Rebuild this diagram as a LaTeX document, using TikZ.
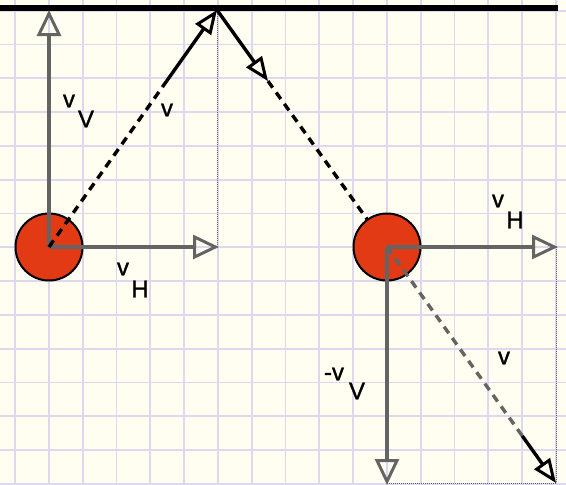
\documentclass[tikz,border=0pt]{standalone}
\usepackage{fontspec}
\setmainfont{Liberation Sans}[FakeBold=1.2]
\usetikzlibrary{arrows.meta,calc}
\definecolor{paper}{RGB}{255,254,240}
\definecolor{gridc}{RGB}{222,215,240}
\definecolor{ballc}{RGB}{226,58,20}
\definecolor{vecgray}{RGB}{100,100,100}
\tikzset{
  grayvec/.style={draw=vecgray,line width=3.2pt,-{Triangle[open,length=26pt,width=24pt,line width=3pt]}},
  blackvec/.style={draw=black,line width=3.4pt,-{Triangle[open,length=24pt,width=19pt,line width=3pt]}},
  dashline/.style={draw=black,line width=3.4pt,dash pattern=on 8pt off 6pt},
  graydash/.style={draw=vecgray,line width=3.4pt,dash pattern=on 8pt off 6pt},
  helper/.style={draw=vecgray,line width=1pt,dash pattern=on 1pt off 1pt},
  ball/.style={circle,draw=black,line width=2pt,fill=ballc,minimum size=67pt,inner sep=0pt},
  lab/.style={font=\fontsize{24}{26}\selectfont,inner sep=0pt,text=black}
}
\begin{document}
\begin{tikzpicture}[x=1pt,y=-1pt]
\useasboundingbox (0,0) rectangle (566,485);
\fill[paper] (0,0) rectangle (566,485);
% grid
\foreach \i in {0,...,16} {\draw[gridc,line width=1.8pt] ({15+33.8*\i},0) -- ({15+33.8*\i},485);}
\foreach \j in {0,...,14} {\draw[gridc,line width=1.8pt] (0,{10.6+33.8*\j}) -- (566,{10.6+33.8*\j});}
% ceiling
\coordinate (cl) at (0,8);
\coordinate (cr) at (558,8);
\draw[black,line width=6.5pt] (cl) -- (cr);
% key points
\coordinate (top1) at (217,10);
\coordinate (h1) at (219,247);
\coordinate (h2) at (558,247);
\coordinate (v2) at (387,485);
\coordinate (d2) at (556,483);
\coordinate (vt1) at (49,10);
% helper dotted lines
\draw[helper] (top1) -- (217,247);
\draw[helper] (556,247) -- (d2);
\draw[helper] (387,483) -- (d2);
% balls positions
\coordinate (c1) at (49,247);
\coordinate (c2) at (387,247);
% reflected path
\coordinate (r1) at ($(top1)!0.3!(c2)$);
\draw[blackvec] (top1) -- (r1);
\draw[dashline] (r1) -- (c2);
% balls
\node[ball] (b1) at (c1) {};
\node[ball] (b2) at (c2) {};
% component vectors
\draw[grayvec] (b1.center) -- (vt1);
\draw[grayvec] (b1.center) -- (h1);
\draw[grayvec] (b2.center) -- (h2);
\draw[grayvec] (b2.center) -- (v2);
% resultant vectors
\coordinate (m1) at ($(b1.center)!0.7!(top1)$);
\draw[dashline] (b1.center) -- (m1);
\draw[blackvec] (m1) -- (top1);
\coordinate (m2) at ($(b2.center)!0.8!(d2)$);
\draw[graydash] (b2.center) -- (m2);
\draw[blackvec] (m2) -- (d2);
% labels
\node[lab] (l1) at (69,101) {v};
\node[lab] (l1s) at (86,119) {V};
\node[lab] (l2) at (167,110) {v};
\node[lab] (l3) at (123,269) {v};
\node[lab] (l3s) at (140,289) {H};
\node[lab] (l4) at (498,201) {v};
\node[lab] (l4s) at (515,220) {H};
\node[lab] (l5) at (334,374) {-v};
\node[lab] (l5s) at (357,391) {V};
\node[lab] (l6) at (504,358) {v};
\end{tikzpicture}
\end{document}
